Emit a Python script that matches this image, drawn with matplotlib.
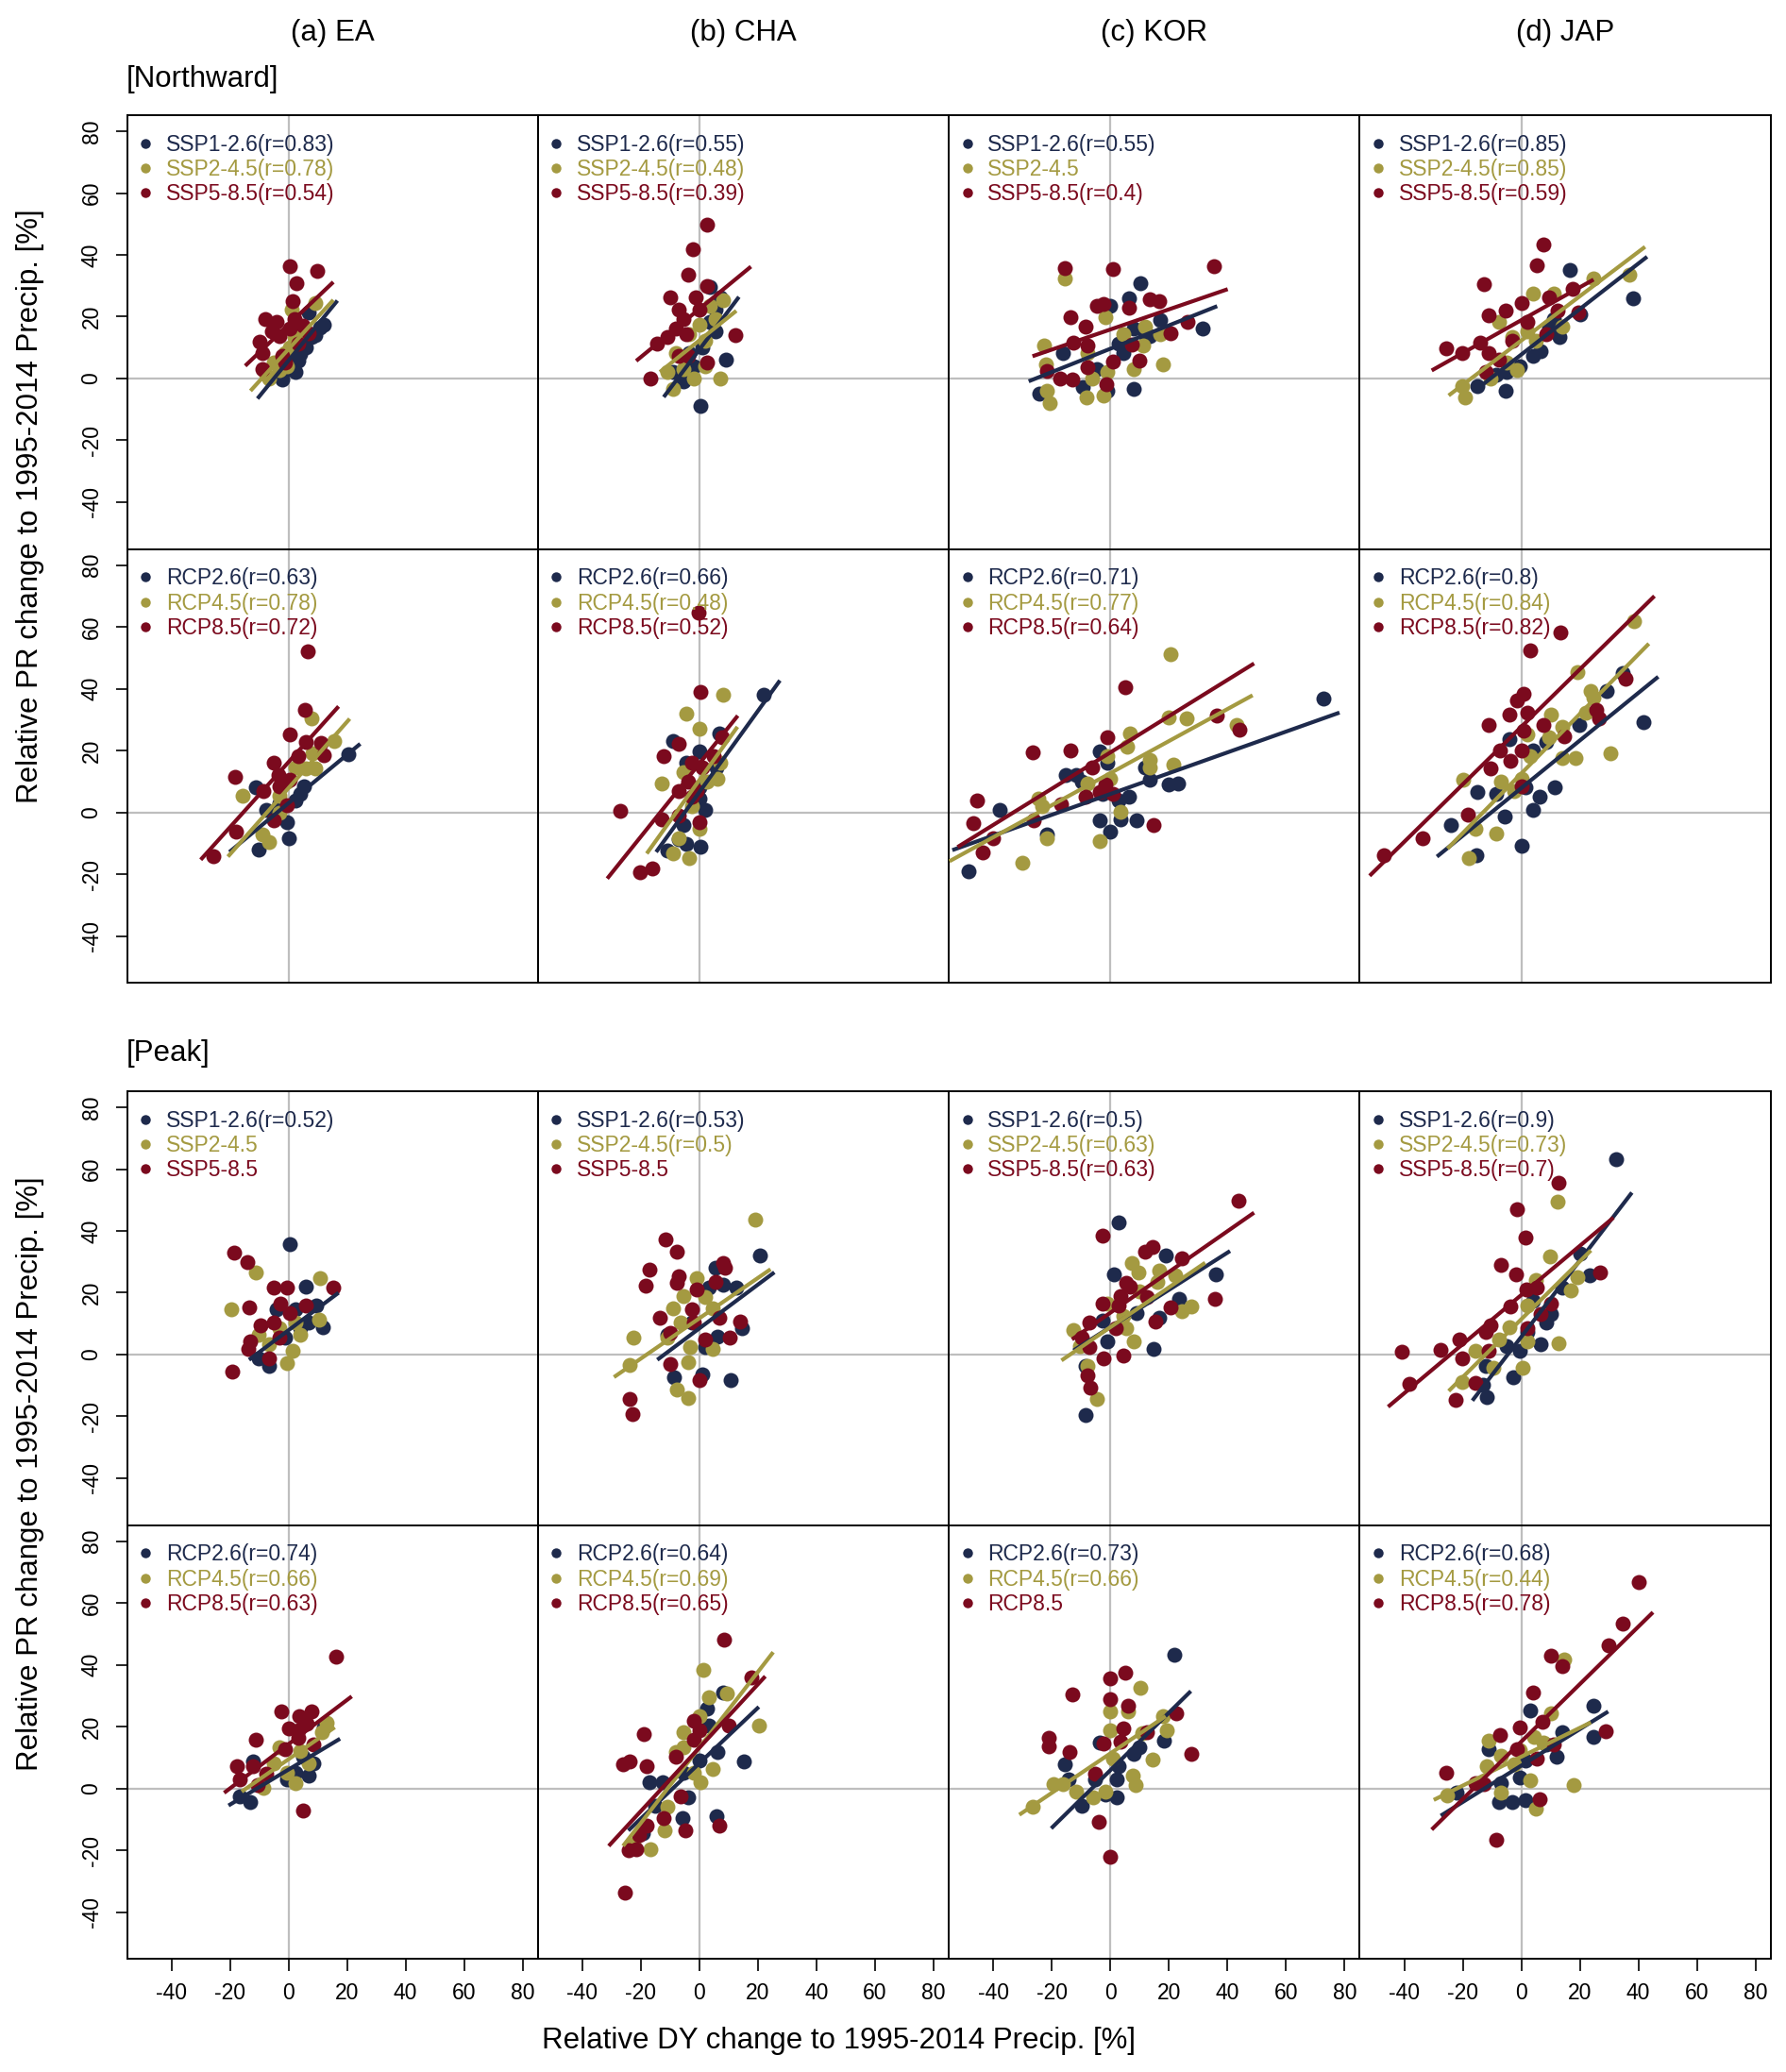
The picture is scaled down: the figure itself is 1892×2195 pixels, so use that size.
import matplotlib
matplotlib.use("Agg")
import matplotlib.pyplot as plt
from matplotlib.lines import Line2D

plt.rcParams['font.family'] = ['Liberation Sans', 'DejaVu Sans']
plt.rcParams['axes.unicode_minus'] = False

# ---- labels ----
regions = ['(a) EA', '(b) CHA', '(c) KOR', '(d) JAP']
ssp_names = ['SSP1-2.6', 'SSP2-4.5', 'SSP5-8.5']
rcp_names = ['RCP2.6', 'RCP4.5', 'RCP8.5']
ticks = [-40, -20, 0, 20, 40, 60, 80]
colors = ['#1E2A4C', '#A49A41', '#7B0A1E']  # low, mid, high scenario

# ---- data: (DY change, PR change) per model, series order = low / mid / high ----
# [Northward] CMIP6
nw_ssp_ea = [
    [(10.8, 16.6), (6.8, 21.4), (5.9, 10.2), (3.2, 5.7), (-2.2, -0.4), (2.3, 2.1), (7.7, 13.3), (0.5, 3.0),
     (4.0, 8.0), (9.0, 14.0), (1.5, 6.0), (12.0, 17.5)],
    [(9.0, 24.4), (1.1, 22.4), (-3.0, 2.6), (-7.5, 1.1), (-1.3, 8.2), (2.0, 13.3), (4.1, 15.3), (-4.9, 5.2),
     (-0.4, 4.1), (0.5, 10.2), (-6.7, 0.1), (3.0, 17.0)],
    [(0.5, 36.2), (9.9, 34.8), (2.7, 30.7), (1.4, 24.9), (-8.1, 19.1), (-4.0, 18.3), (2.0, 19.3), (6.8, 14.8),
     (-9.9, 12.0), (-3.0, 13.8), (3.2, 11.2), (-8.8, 8.2), (-2.2, 7.2), (-8.8, 3.1), (-1.3, 5.2), (-5.8, 15.3),
     (0.5, 16.3), (5.0, 17.0)],
]
nw_ssp_cha = [
    [(7.2, 26.4), (3.6, 29.5), (5.4, 15.3), (9.0, 6.2), (0.5, -9.0), (-5.4, -0.9), (-1.8, 4.1), (-9.0, 2.1),
     (0.9, 10.2), (3.6, 18.3), (-3.6, 8.2), (5.4, 22.4)],
    [(-9.0, -3.4), (-10.8, 2.1), (-5.4, 3.1), (1.8, 4.1), (7.2, 0.1), (-1.8, 0.1), (8.1, 25.4), (3.6, 23.4),
     (0.0, 17.3), (-3.6, 14.3), (-8.1, 8.2), (1.8, 12.2), (5.4, 19.3)],
    [(2.7, 49.7), (-2.2, 41.8), (-4.0, 33.5), (-9.9, 26.4), (-1.4, 26.4), (2.7, 30.0), (-7.2, 22.4), (-5.4, 19.3),
     (-8.1, 16.3), (-4.5, 14.3), (-14.4, 11.2), (-10.8, 13.3), (12.2, 14.1), (-7.2, 7.2), (-4.0, 7.2), (2.7, 5.2),
     (-16.6, 0.1), (0.0, 22.4)],
]
nw_ssp_kor = [
    [(10.3, 30.8), (6.3, 25.9), (0.0, 23.4), (17.1, 18.8), (31.5, 16.3), (11.7, 14.3), (2.7, 11.2), (8.1, 16.3),
     (-16.2, 8.2), (-24.3, -5.0), (-9.5, -2.9), (8.1, -3.4), (-0.9, -3.9), (-4.5, 3.1), (4.5, 8.2), (13.5, 13.8)],
    [(-15.7, 32.5), (-22.5, 10.7), (-22.0, 4.7), (-21.6, -3.9), (-20.7, -7.8), (-8.1, -6.0), (-2.3, -5.5),
     (-6.3, 0.1), (-0.9, 2.1), (4.5, 14.3), (8.1, 3.1), (11.2, 10.7), (18.0, 4.7), (17.1, 14.3), (11.7, 16.8),
     (-1.8, 19.8), (-7.7, 8.2)],
    [(-15.7, 35.7), (0.9, 35.3), (35.5, 36.3), (-4.5, 23.4), (-2.3, 24.2), (-13.5, 19.8), (-8.5, 16.8),
     (13.5, 25.6), (16.7, 24.9), (6.3, 22.9), (20.7, 14.8), (26.5, 18.3), (-12.6, 11.7), (-7.7, 10.7), (7.2, 11.0),
     (9.9, 5.7), (0.9, 5.4), (-7.7, 3.8), (-21.6, 2.3), (-17.1, 0.1), (-13.1, -0.4), (-1.4, -1.9)],
]
nw_ssp_jap = [
    [(16.6, 35.0), (38.2, 25.9), (20.2, 20.9), (13.0, 13.3), (6.7, 8.7), (4.0, 7.2), (-0.5, 4.1), (-5.0, 2.1),
     (-14.9, -2.4), (-5.4, -3.9), (-8.6, 1.1), (11.2, 19.3), (9.4, 16.3)],
    [(36.9, 33.7), (24.7, 32.5), (4.0, 27.4), (11.2, 27.4), (-7.7, 18.3), (-3.2, 13.3), (13.9, 16.8), (4.9, 12.2),
     (-1.4, 2.6), (-5.0, 5.2), (-20.3, -2.4), (-19.1, -6.2), (-10.4, 0.1), (2.2, 15.3)],
    [(7.6, 43.4), (5.4, 36.5), (-12.6, 30.5), (-5.4, 21.9), (-11.3, 20.3), (0.0, 24.4), (2.2, 18.3), (9.4, 26.4),
     (17.5, 28.9), (12.4, 22.1), (19.6, 21.4), (8.5, 14.3), (-25.7, 9.7), (-20.3, 8.2), (-14.0, 11.7),
     (-11.3, 8.2), (-7.7, 6.2), (-3.2, 12.2), (-12.2, 2.1)],
]
nw_ssp_r = [[0.83, 0.78, 0.54], [0.55, 0.48, 0.39], [0.55, None, 0.4], [0.85, 0.85, 0.59]]
# regression lines: [x start, x end, y start, y end]
nw_ssp_fit = [
    [[-10.6, 16.7, -6.5, 25.2], [-13.0, 15.3, -4.0, 25.4], [-14.8, 15.3, 4.1, 31.2]],
    [[-12.2, 13.5, -6.0, 26.4], [-13.5, 12.6, 2.1, 21.9], [-21.6, 17.6, 5.7, 36.2]],
    [[-27.9, 36.5, -0.9, 23.4], None, [-26.6, 40.1, 7.2, 28.9]],
    [[-15.8, 43.0, -3.9, 39.4], [-24.8, 42.3, -5.5, 42.6], [-30.6, 24.7, 2.6, 32.0]],
]

# [Northward] CMIP5
nw_rcp_ea = [
    [(20.3, 18.8), (5.4, 8.5), (4.1, 6.0), (-11.2, 8.0), (-7.6, 0.9), (-0.4, -3.1), (0.0, -8.2), (-10.3, -11.9),
     (-3.1, 2.9), (2.3, 3.9)],
    [(7.7, 30.5), (15.5, 23.2), (8.1, 19.1), (5.9, 14.1), (9.2, 14.1), (2.3, 14.6), (-3.1, 5.5), (-15.7, 5.5),
     (-3.1, -0.1), (-8.8, -7.2), (-6.7, -9.7), (-0.4, 10.0)],
    [(6.5, 52.0), (5.6, 33.3), (0.5, 25.2), (5.9, 22.7), (11.0, 22.4), (12.2, 18.6), (3.2, 18.1), (-4.9, 16.1),
     (-3.4, 12.0), (-18.4, 11.5), (-8.5, 7.0), (-3.1, 8.5), (-0.4, 2.4), (-4.9, -2.6), (-18.0, -6.2),
     (-25.6, -14.3), (0.5, 10.5)],
]
nw_rcp_cha = [
    [(22.1, 38.1), (6.7, 25.7), (-9.0, 23.2), (0.0, 19.6), (-4.5, 16.1), (5.9, 14.6), (0.0, 8.0), (0.0, 4.5),
     (-5.4, -4.1), (-7.2, -8.7), (0.4, -11.2), (-10.8, -12.2), (-4.5, -10.2), (1.8, 0.9)],
    [(8.1, 38.1), (-4.5, 32.0), (0.0, 27.2), (6.3, 11.0), (2.7, 10.0), (-5.4, 13.1), (-13.0, 9.5), (-2.7, 1.9),
     (0.0, -5.2), (-9.0, -13.3), (-3.6, -14.8), (-7.2, -8.2), (7.2, 16.1)],
    [(0.5, 38.9), (-0.4, 64.5), (-7.2, 22.2), (-12.2, 18.1), (7.6, 24.2), (5.0, 18.1), (-2.7, 16.1), (0.9, 14.6),
     (-4.0, 10.0), (-7.2, 7.0), (-2.7, 5.0), (-27.0, 0.4), (-13.0, -2.1), (-7.2, -1.1), (0.0, -3.1),
     (-20.2, -19.3), (-16.2, -18.1), (-0.9, 7.0)],
]
nw_rcp_kor = [
    [(72.9, 37.0), (-48.6, -19.1), (-37.8, 0.7), (-21.6, -7.0), (-15.3, 12.0), (-11.7, 12.0), (-3.6, 19.6),
     (-9.9, 10.0), (-2.7, 6.0), (-0.9, 16.1), (-3.6, -2.6), (0.0, -6.2), (3.6, -2.1), (9.0, -2.6), (6.3, 5.0),
     (11.7, 14.6), (13.5, 10.5), (19.8, 9.0), (23.0, 9.5), (2.7, 3.9)],
    [(20.7, 51.3), (19.8, 30.8), (26.1, 30.5), (43.2, 28.4), (6.7, 25.7), (5.8, 21.4), (13.5, 17.1), (21.6, 15.6),
     (13.5, 14.6), (-0.9, 18.1), (-7.7, 9.5), (-24.7, 4.5), (-23.4, 1.9), (-21.6, -8.2), (-30.1, -16.3),
     (-3.6, -9.2), (3.6, 0.1), (0.0, 11.0)],
    [(5.0, 40.6), (-0.9, 24.2), (-13.5, 20.1), (-26.5, 19.4), (36.5, 31.5), (44.1, 26.7), (-6.3, 14.6),
     (-1.8, 9.0), (-8.5, 5.0), (-16.7, 2.7), (-26.1, -2.6), (-45.5, 3.9), (-46.8, -3.6), (-40.1, -8.2),
     (-43.7, -12.8), (14.9, -4.1), (0.9, 6.0), (-3.6, 6.5)],
]
nw_rcp_jap = [
    [(34.6, 45.2), (29.2, 39.4), (19.8, 28.4), (41.8, 29.3), (-4.1, 23.7), (4.0, 20.1), (8.5, 22.7), (11.5, 8.0),
     (-14.9, 6.5), (-8.6, 6.0), (1.3, 8.0), (6.3, 5.0), (4.0, 0.9), (-5.6, -1.3), (-23.9, -4.1), (0.0, -10.7),
     (-15.3, -13.8)],
    [(38.5, 61.8), (19.3, 45.4), (23.8, 39.4), (24.7, 37.3), (22.1, 32.3), (10.3, 31.8), (13.9, 27.7), (9.4, 24.2),
     (2.2, 25.2), (3.1, 18.1), (13.9, 17.6), (18.4, 17.6), (30.6, 19.1), (-6.8, 10.0), (-2.3, 7.0), (0.0, 11.0),
     (-20.0, 10.5), (-15.8, -5.2), (-8.6, -6.7), (-18.0, -14.8)],
    [(13.3, 58.1), (3.1, 52.5), (0.9, 38.4), (-1.4, 36.3), (-4.1, 31.8), (2.2, 32.3), (-11.0, 28.4), (7.6, 28.4),
     (0.9, 26.4), (14.8, 24.7), (25.6, 33.3), (26.5, 30.3), (35.5, 43.4), (-7.4, 20.1), (0.0, 20.1),
     (-3.8, 16.6), (-10.4, 14.1), (0.0, 8.5), (-18.2, -0.6), (-33.8, -8.2), (-46.8, -13.8)],
]
nw_rcp_r = [[0.63, 0.78, 0.72], [0.66, 0.48, 0.52], [0.71, 0.77, 0.64], [0.8, 0.84, 0.82]]
nw_rcp_fit = [
    [[-20.2, 24.5, -12.8, 22.2], [-20.7, 20.9, -14.3, 30.3], [-30.0, 17.1, -15.3, 34.3]],
    [[-14.8, 27.5, -12.8, 42.7], [-18.0, 13.0, -13.3, 27.7], [-31.5, 13.1, -21.4, 31.3]],
    [[-54.0, 78.3, -12.2, 32.3], [-55.0, 48.6, -15.8, 37.9], [-52.2, 49.1, -11.2, 48.2]],
    [[-28.8, 46.8, -14.3, 43.9], [-25.2, 43.6, -11.7, 54.6], [-51.8, 45.5, -20.5, 70.0]],
]

# [Peak] CMIP6
pk_ssp_ea = [
    [(0.5, 35.7), (5.9, 22.1), (9.5, 16.0), (11.7, 8.9), (2.3, 14.5), (-4.0, 14.5), (6.8, 10.4), (-6.7, -3.7),
     (-10.3, -1.2), (-1.3, 5.4), (4.1, 8.4)],
    [(-11.2, 26.6), (-19.6, 14.7), (10.6, 24.6), (10.4, 11.4), (4.1, 6.4), (-0.4, -2.7), (-10.3, 6.4), (1.4, 1.3),
     (-3.1, 8.4), (-6.7, 3.3), (2.3, 10.4)],
    [(-18.7, 32.9), (-14.2, 29.9), (-4.9, 21.6), (-0.4, 21.6), (15.3, 21.6), (-13.3, 15.2), (-2.7, 16.5),
     (5.9, 16.0), (-9.4, 9.4), (-4.9, 10.4), (-13.0, 4.4), (-13.9, 1.8), (-6.7, -1.2), (-19.3, -5.5), (0.5, 13.5),
     (-3.1, 5.4)],
]
pk_ssp_cha = [
    [(20.7, 32.2), (5.4, 28.1), (8.1, 22.6), (12.6, 21.6), (3.2, 21.8), (14.4, 8.4), (6.3, 5.9), (0.9, -6.3),
     (-8.6, -7.3), (10.8, -8.3), (-2.7, 10.4), (1.8, 2.3), (-10.8, 6.4)],
    [(18.9, 43.6), (-0.9, 24.6), (-5.4, 19.0), (1.8, 18.5), (-9.0, 15.0), (4.5, 15.0), (-22.5, 5.4), (-6.3, 10.4),
     (-3.1, 2.3), (4.5, 1.8), (-23.8, -3.5), (-4.0, -2.5), (-7.6, -11.3), (-4.0, -14.2), (-10.8, 5.4)],
    [(-11.7, 37.4), (-7.7, 33.4), (-17.1, 27.6), (-7.2, 25.4), (-18.4, 22.4), (-7.6, 23.1), (8.1, 29.7),
     (8.6, 28.1), (5.4, 23.6), (-0.9, 21.1), (-2.7, 14.5), (-13.5, 11.9), (-1.8, 10.4), (6.8, 11.9), (14.0, 10.6),
     (-9.9, 6.9), (10.4, 5.4), (1.8, 4.9), (-9.9, -3.2), (0.0, -8.3), (-23.8, -14.4), (-22.9, -19.4)],
]
pk_ssp_kor = [
    [(2.7, 42.8), (18.9, 32.2), (36.0, 26.1), (1.3, 25.8), (23.4, 18.0), (9.0, 13.5), (16.6, 11.9), (14.9, 1.8),
     (-0.9, 4.4), (-8.5, -3.7), (-8.5, -19.7), (-2.7, 10.9)],
    [(7.2, 29.7), (9.5, 26.6), (16.7, 27.1), (22.1, 25.6), (9.9, 20.5), (24.3, 14.0), (27.5, 15.5), (4.5, 12.4),
     (-12.6, 7.9), (5.4, 8.4), (8.1, 4.4), (-10.3, 2.8), (-7.7, -3.7), (-4.5, -14.4), (-0.9, 16.5), (16.2, 23.6)],
    [(43.7, 49.9), (-2.7, 38.5), (11.7, 33.2), (14.4, 34.7), (24.3, 31.2), (5.4, 23.1), (6.7, 22.1), (3.6, 19.0),
     (-2.7, 16.5), (2.7, 16.0), (12.6, 18.5), (20.7, 15.3), (35.6, 18.0), (15.3, 10.6), (-7.2, 10.4), (1.8, 8.4),
     (-7.2, 2.3), (-2.2, -1.2), (4.5, -0.2), (-7.7, -6.8), (-6.7, -10.8), (-9.9, 5.4)],
]
pk_ssp_jap = [
    [(32.4, 63.1), (20.2, 32.7), (23.4, 25.6), (13.9, 21.6), (10.3, 13.0), (8.5, 10.4), (2.2, 7.4), (6.7, 3.3),
     (-0.5, 1.3), (-5.0, 2.8), (-12.2, -3.7), (-2.9, -7.3), (-13.1, -9.8), (-11.9, -13.9), (4.0, 17.5)],
    [(12.4, 49.4), (9.9, 31.7), (19.3, 25.1), (16.9, 20.7), (4.9, 24.1), (2.2, 16.0), (-4.1, 8.9), (2.2, 4.4),
     (12.6, 3.8), (-9.5, -4.3), (0.4, -4.3), (-20.3, -8.8), (-15.8, 1.3), (-7.7, 4.9)],
    [(12.6, 55.5), (-1.4, 46.9), (1.3, 37.8), (-6.8, 29.1), (-1.8, 26.1), (1.8, 21.1), (5.4, 21.6), (27.0, 26.6),
     (10.3, 16.5), (6.7, 13.0), (-3.6, 15.5), (-10.4, 9.4), (-12.2, 7.4), (2.2, 8.4), (-21.2, 4.9), (-27.5, 1.5),
     (-40.7, 1.0), (-20.3, -1.2), (-11.3, 1.3), (-15.8, -9.3), (-38.3, -9.5), (-22.5, -14.7)],
]
pk_ssp_r = [[0.52, None, None], [0.53, 0.5, None], [0.5, 0.63, 0.63], [0.9, 0.73, 0.7]]
pk_ssp_fit = [
    [[-13.5, 17.1, -1.7, 20.0], None, None],
    [[-14.4, 25.6, -1.7, 26.6], [-29.2, 24.3, -7.3, 27.6], None],
    [[-12.6, 40.9, 1.3, 33.5], [-16.7, 32.4, -1.9, 29.7], [-13.1, 49.1, 4.9, 45.9]],
    [[-16.7, 37.8, -14.9, 52.4], [-24.8, 23.8, -11.8, 33.7], [-45.5, 31.5, -16.9, 44.3]],
]

# [Peak] CMIP5
pk_rcp_ea = [
    [(12.2, 19.8), (8.6, 8.2), (6.8, 4.1), (-0.4, 3.1), (-12.1, 8.7), (-13.0, -4.5), (-16.6, -2.4), (2.3, 5.2),
     (5.0, 10.2)],
    [(11.3, 18.3), (13.1, 21.4), (6.8, 8.2), (2.3, 1.6), (-3.1, 13.3), (-8.5, 0.1), (-0.4, 5.2), (4.1, 12.2),
     (-4.9, 8.2)],
    [(16.4, 42.6), (-2.5, 24.9), (7.7, 24.9), (3.8, 23.4), (0.2, 19.3), (6.1, 20.9), (-11.2, 15.8), (3.2, 16.3),
     (8.6, 14.3), (-1.3, 12.8), (-17.5, 7.2), (-12.1, 7.2), (-7.6, 4.7), (-16.6, 3.1), (-10.6, 1.1), (5.0, -7.0),
     (3.2, 18.8)],
]
pk_rcp_cha = [
    [(8.1, 31.0), (2.7, 25.9), (3.2, 20.3), (6.3, 11.7), (15.3, 8.7), (0.0, 9.2), (-5.4, 5.2), (-17.1, 2.1),
     (-12.6, 2.1), (-4.0, -2.9), (-15.3, -5.5), (-5.8, -9.5), (5.8, -9.0), (-19.3, -14.6)],
    [(1.4, 38.4), (3.2, 29.5), (9.5, 30.7), (20.2, 20.3), (-5.4, 18.3), (-8.1, 11.7), (-5.4, 13.3), (4.5, 6.4),
     (-1.8, 5.2), (0.4, 2.1), (-10.8, -6.0), (-11.9, -13.6), (-16.6, -19.6), (-22.5, -18.1), (0.0, 23.4)],
    [(8.5, 48.2), (17.6, 36.0), (-18.9, 17.5), (-26.1, 7.7), (-23.8, 8.7), (-18.0, 7.2), (-1.8, 21.9), (0.0, 18.8),
     (-1.8, 15.8), (9.9, 20.3), (-8.1, 10.2), (-6.3, -2.4), (-12.2, -9.5), (-4.9, -13.6), (6.7, -12.0),
     (-18.0, -12.0), (-20.7, -15.1), (-24.3, -20.1), (-21.6, -19.6), (-25.6, -33.6)],
]
pk_rcp_kor = [
    [(22.0, 43.4), (9.9, 13.3), (18.4, 15.5), (-3.6, 14.8), (2.7, 7.2), (2.3, 3.1), (-5.4, 3.1), (-15.7, 7.7),
     (-14.2, 3.1), (-9.9, -5.5), (2.3, -2.9), (-1.8, -1.9), (8.1, 11.2)],
    [(10.4, 32.7), (0.0, 24.9), (5.9, 24.9), (0.0, 18.8), (10.8, 17.8), (18.0, 23.4), (19.3, 18.8), (14.4, 9.4),
     (0.9, 9.7), (7.7, 4.1), (8.6, 1.1), (-19.3, 1.3), (-16.2, 1.3), (-11.7, -0.9), (-5.9, -2.9), (-26.5, -6.0),
     (-1.8, -0.9)],
    [(5.0, 37.6), (0.0, 35.7), (-13.0, 30.5), (0.0, 28.9), (5.9, 26.9), (22.5, 24.4), (27.5, 11.2), (4.5, 19.3),
     (12.6, 18.3), (3.6, 15.3), (-2.2, 14.5), (-21.1, 16.3), (-21.1, 13.5), (-13.9, 11.7), (-5.4, 4.7),
     (-4.1, -10.8), (0.0, -22.2)],
]
pk_rcp_jap = [
    [(3.1, 25.2), (24.7, 26.9), (24.7, 16.8), (13.9, 18.3), (12.1, 10.2), (1.3, 9.2), (-0.5, 3.6), (-6.8, 1.6),
     (-11.3, 12.8), (-7.7, -4.5), (-3.2, -4.5), (1.3, -3.9), (-22.1, -1.4), (8.5, 14.3)],
    [(14.8, 41.8), (10.3, 24.4), (4.5, 16.8), (7.6, 14.8), (-11.3, 15.5), (-11.9, 7.2), (-6.8, 10.7), (-2.3, 7.7),
     (3.1, 2.6), (18.0, 1.1), (-6.8, -1.4), (4.9, -6.5), (-25.2, -2.1), (-0.5, 12.3)],
    [(40.3, 66.7), (34.6, 53.4), (29.7, 46.2), (10.3, 43.1), (13.9, 39.6), (4.0, 31.0), (-0.5, 19.8), (-7.2, 17.3),
     (7.2, 21.6), (11.2, 14.3), (-1.4, 12.8), (5.4, 9.7), (28.8, 18.5), (-25.7, 5.2), (-15.8, 1.6), (-12.6, 1.3),
     (6.3, -3.4), (-8.6, -16.6)],
]
pk_rcp_r = [[0.74, 0.66, 0.63], [0.64, 0.69, 0.65], [0.73, 0.66, None], [0.68, 0.44, 0.78]]
pk_rcp_fit = [
    [[-20.5, 17.6, -5.5, 16.1], [-16.0, 15.8, -1.0, 19.8], [-22.0, 21.6, -1.4, 29.8]],
    [[-24.3, 20.3, -13.6, 26.4], [-26.1, 25.2, -18.6, 44.1], [-31.0, 22.5, -18.6, 36.3]],
    [[-20.2, 27.5, -12.9, 31.5], [-31.1, 18.9, -8.5, 23.4], None],
    [[-27.5, 29.7, -8.8, 24.9], [-29.9, 23.8, -3.7, 21.4], [-30.6, 45.0, -13.3, 57.0]],
]

rows = [
    ([nw_ssp_ea, nw_ssp_cha, nw_ssp_kor, nw_ssp_jap], nw_ssp_r, nw_ssp_fit, ssp_names),
    ([nw_rcp_ea, nw_rcp_cha, nw_rcp_kor, nw_rcp_jap], nw_rcp_r, nw_rcp_fit, rcp_names),
    ([pk_ssp_ea, pk_ssp_cha, pk_ssp_kor, pk_ssp_jap], pk_ssp_r, pk_ssp_fit, ssp_names),
    ([pk_rcp_ea, pk_rcp_cha, pk_rcp_kor, pk_rcp_jap], pk_rcp_r, pk_rcp_fit, rcp_names),
]

# ---- layout (pixels of the 1892x2195 output) ----
W, H = 1892, 2195
fig = plt.figure(figsize=(W / 100, H / 100), dpi=100)
col_left = [134.5, 569.8, 1005.1, 1440.4]
panel_w = 435.3
row_top = [122.0, 581.7, 1156.0, 1615.7]
panel_h = 459.7

for ri, (panels, rvals, fits, names) in enumerate(rows):
    for ci in range(4):
        ax = fig.add_axes([col_left[ci] / W, 1 - (row_top[ri] + panel_h) / H, panel_w / W, panel_h / H])
        ax.set_xlim(-55.2, 85.2)
        ax.set_ylim(-55.2, 85.2)
        ax.axhline(0, color='#BEBEBE', lw=1.6, zorder=1)
        ax.axvline(0, color='#BEBEBE', lw=1.6, zorder=1)

        for k in range(3):
            xs = [p[0] for p in panels[ci][k]]
            ys = [p[1] for p in panels[ci][k]]
            ax.plot(xs, ys, 'o', ms=11.5, color=colors[k], mew=0, zorder=2 + k)
        for k in range(3):
            f = fits[ci][k]
            if rvals[ci][k] is not None and f is not None:
                ax.plot(f[:2], f[2:], color=colors[k], lw=3.0, zorder=6 + k, solid_capstyle='butt')

        labels = []
        for k in range(3):
            r = rvals[ci][k]
            labels.append(names[k] + (f"(r={r:g})" if r is not None else ""))
        handles = [Line2D([], [], marker='o', ls='none', color=colors[k], ms=7.5, mew=0) for k in range(3)]
        ax.legend(handles, labels, loc='upper left', bbox_to_anchor=(0.0184, 0.957), frameon=False,
                  fontsize=16.5, labelcolor=colors, handlelength=1.0, handletextpad=0.45, borderpad=0,
                  borderaxespad=0, labelspacing=0.14)

        for s in ax.spines.values():
            s.set_linewidth(1.4)
            s.set_color('black')

        ax.set_xticks(ticks)
        ax.set_yticks(ticks)
        ax.tick_params(axis='both', length=9, width=1.2, labelsize=16.5, direction='out')
        ax.tick_params(axis='x', pad=8.5)
        ax.tick_params(axis='y', pad=18)
        if ci != 0:
            ax.tick_params(axis='y', left=False, labelleft=False)
        else:
            plt.setp(ax.get_yticklabels(), rotation=90, ha='center', va='center')
        if ri != 3:
            ax.tick_params(axis='x', bottom=False, labelbottom=False)

# ---- titles and axis labels ----
for ci, name in enumerate(regions):
    fig.text((col_left[ci] + panel_w / 2) / W, 1 - 35 / H, name, ha='center', va='center', fontsize=22.5)
fig.text(134 / W, 1 - 84 / H, '[Northward]', ha='left', va='center', fontsize=22.5)
fig.text(134 / W, 1 - 1116 / H, '[Peak]', ha='left', va='center', fontsize=22.5)
ylab = 'Relative PR change to 1995-2014 Precip. [%]'
fig.text(32 / W, 1 - 536 / H, ylab, rotation=90, ha='center', va='center', fontsize=22.5)
fig.text(32 / W, 1 - 1561 / H, ylab, rotation=90, ha='center', va='center', fontsize=22.5)
fig.text(888 / W, 1 - 2162 / H, 'Relative DY change to 1995-2014 Precip. [%]', ha='center', va='center',
         fontsize=22.5)

fig.savefig('out.png', dpi=100)
